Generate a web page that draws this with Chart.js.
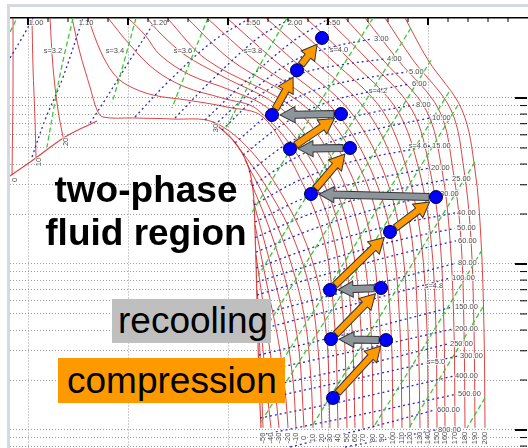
<!DOCTYPE html>
<html lang="en">
<head>
<meta charset="utf-8">
<title>CO2 compression diagram</title>
<script src="https://cdn.jsdelivr.net/npm/chart.js@4.4.1/dist/chart.umd.min.js"></script>
<style>
  html, body { margin: 0; padding: 0; background: #fff; }
  body { position: relative; width: 528px; height: 448px; overflow: hidden; }
  #diagram { position: absolute; left: 0; top: 0; }
  #frame { position: absolute; left: 7px; top: 4px; width: 521px; height: 444px; box-sizing: border-box;
           border-left: 3px solid #d5d9e1; border-top: 3px solid #d5d9e1; }
  .caption { position: absolute; margin: 0; color: #000; white-space: nowrap;
             font-family: "Liberation Sans", Arial, Helvetica, sans-serif; }
  #region { left: 0; top: 168px; width: 292px; text-align: center; font-weight: bold; font-size: 37px; line-height: 43px; }
  #recool { left: 112px; top: 299px; width: 153px; height: 44px; padding-left: 6px; background: #bfbfbf; font-size: 37px; line-height: 44px; }
  #comp { left: 58px; top: 358px; width: 218px; height: 45px; padding-left: 9px; background: #ff9900; font-size: 37px; line-height: 45px; }
</style>
</head>
<body>
<canvas id="diagram" width="528" height="448"></canvas>
<div id="frame"></div>
<div class="caption" id="region">two-phase<br>fluid region</div>
<div class="caption" id="recool">recooling</div>
<div class="caption" id="comp">compression</div>
<script>
// axis grid
const xTicks = [0, 20, 40, 60, 80, 100, 120, 140, 160, 180, 200, 220, 240, 260, 280, 300, 320, 340, 360, 380, 400, 420, 440, 460, 480];
const yGrid = [1, 0.9, 0.8, 0.7, 0.6, 0.5, 0.4, 0.3, 0.2, 0.1, 0.09, 0.08, 0.07, 0.06, 0.05, 0.04, 0.03, 0.02, 0.01, 0.009, 0.008];
const yMajor = [1, 0.1, 0.01];

// saturation boundary of the two-phase region
const satLeft = [[-18, 0.339], [5, 0.423], [37, 0.583], [69, 0.727]];
const satRight = [[185, 0.717], [205, 0.558], [219, 0.406], [225, 0.279], [227, 0.160], [229, 0.0607], [231, 0.0200], [233, 0.0103]];

// isotherms (red)
const vaporIsotherms = [
  { t: '0', pts: [[-15, 3.033], [-15, 1.117], [-16, 0.344]] },
  { t: '10', pts: [[4, 3.033], [5, 1.537], [7, 0.737], [8, 0.441]] },
  { t: '20', pts: [[22, 3.033], [25, 1.537], [30, 0.847], [35, 0.583]] }
];
const critIsotherm = [[44, 3.033], [52, 1.867], [62, 1.165], [69, 0.847], [75, 0.768], [105, 0.758], [145, 0.747], [185, 0.717],
  [222, 0.486], [257, 0.243], [284, 0.1057], [298, 0.0400], [302, 0.0103]];
const liquidIsotherms = [
  { t: '-50', pts: [[231, 0.0400], [234, 0.0152], [235, 0.0103]] },
  { t: '-40', pts: [[229, 0.0697], [235, 0.0303], [241, 0.0132], [243, 0.0103]] },
  { t: '-30', pts: [[228, 0.1133], [236, 0.0528], [246, 0.0200], [251, 0.0103]] },
  { t: '-20', pts: [[227, 0.172], [238, 0.0801], [252, 0.0303], [258, 0.0152], [260, 0.0103]] },
  { t: '-10', pts: [[225, 0.243], [240, 0.1133], [256, 0.0460], [265, 0.0200], [268, 0.0103]] },
  { t: '0', pts: [[222, 0.321], [242, 0.160], [260, 0.0697], [271, 0.0303], [276, 0.0103]] },
  { t: '10', pts: [[217, 0.423], [240, 0.227], [262, 0.1057], [277, 0.0460], [283, 0.0200], [285, 0.0103]] },
  { t: '20', pts: [[205, 0.558], [234, 0.321], [262, 0.160], [282, 0.0697], [291, 0.0264], [294, 0.0103]] }
];
const warmIsotherms = [
  { t: '40', pts: [[60, 3.033], [72, 1.946], [85, 1.415], [99, 1.198], [125, 1.042], [159, 0.972], [199, 0.882], [235, 0.768],
    [268, 0.368], [296, 0.140], [307, 0.0400], [310, 0.0103]] },
  { t: '50', pts: [[80, 3.033], [102, 2.086], [127, 1.475], [157, 1.165], [194, 1.000], [230, 0.847], [279, 0.368], [306, 0.140], [316, 0.0400], [319, 0.0103]] },
  { t: '60', pts: [[100, 3.033], [117, 2.396], [132, 1.816], [162, 1.376], [202, 1.117], [242, 0.847], [289, 0.368], [314, 0.140], [324, 0.0400], [327, 0.0103]] },
  { t: '70', pts: [[119, 3.033], [132, 2.463], [157, 1.816], [192, 1.376], [255, 0.847], [299, 0.368], [323, 0.140], [333, 0.0400], [335, 0.0103]] }
];
const hotY = [3.033, 1.694, 0.847, 0.368, 0.140, 0.0400, 0.0103];
const hotIsotherms = [
  { t: '80', x: [139, 179, 268, 310, 333, 343, 345] },
  { t: '90', x: [159, 203, 281, 321, 343, 352, 354] },
  { t: '100', x: [179, 226, 293, 333, 354, 363, 365] },
  { t: '110', x: [199, 246, 306, 343, 364, 372, 374] },
  { t: '120', x: [218, 265, 321, 355, 373, 380, 382] },
  { t: '130', x: [238, 285, 338, 368, 384, 390, 392] },
  { t: '140', x: [258, 304, 354, 379, 393, 399, 400] },
  { t: '150', x: [278, 322, 369, 391, 403, 408, 409] },
  { t: '160', x: [298, 340, 384, 402, 412, 416, 417] },
  { t: '170', x: [317, 355, 398, 414, 422, 426, 427] },
  { t: '180', x: [337, 370, 411, 425, 433, 436, 437] },
  { t: '190', x: [357, 385, 423, 436, 443, 446, 447] },
  { t: '200', x: [377, 400, 434, 447, 453, 456, 457] }
];

// isobars (blue, dotted)
const isobars = [
  { p: '1.00', pts: [[-18, 1.742], [-6, 2.299], [5, 3.033]] },
  { p: '1.10', pts: [[4, 0.441], [17, 0.737], [34, 1.284], [55, 3.033]] },
  { p: '1.20', pts: [[62, 0.707], [77, 0.972], [102, 1.694], [129, 3.033]] },
  { p: '1.50', pts: [[107, 0.768], [140, 1.249], [184, 2.175], [222, 3.033]] },
  { p: '2.00', pts: [[147, 0.758], [184, 1.284], [230, 2.299], [264, 3.033]] },
  { p: '2.50', pts: [[177, 0.737], [217, 1.249], [264, 2.175], [302, 3.033]] },
  { p: '3.00', pts: [[190, 0.717], [230, 1.181], [267, 1.694], [304, 2.029], [344, 2.267]] },
  { p: '4.00', pts: [[194, 0.641], [232, 1.042], [272, 1.395], [312, 1.580], [357, 1.718]] },
  { p: '5.00', pts: [[207, 0.536], [247, 0.847], [287, 1.117], [332, 1.302], [379, 1.435]] },
  { p: '6.00', pts: [[215, 0.453], [257, 0.707], [297, 0.932], [340, 1.087], [382, 1.215]] },
  { p: '8.00', pts: [[221, 0.358], [262, 0.543], [307, 0.717], [347, 0.824], [386, 0.907]] },
  { p: '10.00', pts: [[224, 0.295], [267, 0.435], [317, 0.583], [362, 0.678], [402, 0.758]] },
  { p: '15.00', pts: [[226, 0.227], [272, 0.321], [322, 0.411], [402, 0.514]] },
  { p: '20.00', pts: [[227, 0.179], [277, 0.250], [332, 0.312], [401, 0.378]] },
  { p: '25.00', pts: [[227, 0.144], [282, 0.200], [352, 0.267], [422, 0.325]] },
  { p: '30.00', pts: [[228, 0.118], [287, 0.164], [347, 0.214], [410, 0.264]] },
  { p: '40.00', pts: [[228, 0.0946], [292, 0.130], [362, 0.170], [427, 0.203]] },
  { p: '50.00', pts: [[229, 0.0779], [302, 0.107], [372, 0.140], [427, 0.164]] },
  { p: '60.00', pts: [[229, 0.0650], [302, 0.0882], [372, 0.115], [428, 0.138]] },
  { p: '80.00', pts: [[230, 0.0493], [312, 0.0668], [428, 0.101]] },
  { p: '100.00', pts: [[230, 0.0400], [312, 0.0543], [422, 0.0823]] },
  { p: '150.00', pts: [[231, 0.0283], [322, 0.0383], [425, 0.0551]] },
  { p: '200.00', pts: [[231, 0.0224], [322, 0.0295], [425, 0.0406]] },
  { p: '250.00', pts: [[232, 0.0179], [322, 0.0236], [420, 0.0330]] },
  { p: '300.00', pts: [[232, 0.0152], [322, 0.0200], [430, 0.0279]] },
  { p: '400.00', pts: [[232, 0.0118], [322, 0.0152], [425, 0.0211]] },
  { p: '500.00', pts: [[233, 0.00933], [322, 0.0120], [428, 0.0164]] },
  { p: '600.00', pts: [[262, 0.0079], [332, 0.0100], [407, 0.0132]] },
  { p: '800.00', pts: [[317, 0.0079], [408, 0.0100]] }
];

// isentropes (green, dashed)
const isentropes = [
  [[-18, 2.498], [-11, 3.033]],
  [[45, 3.033], [32, 1.376], [19, 0.507]],
  [[108, 3.033], [96, 1.648], [84, 0.932]],
  [[180, 3.033], [162, 1.648], [144, 0.871]],
  [[259, 3.033], [228, 1.435], [198, 0.659]],
  [[345, 3.033], [284, 0.790], [224, 0.205]],
  [[383, 2.64], [307, 0.486], [230, 0.0846]],
  [[403, 1.694], [317, 0.243], [231, 0.0353]],
  [[421, 1.087], [327, 0.130], [232, 0.0160]],
  [[430, 0.907], [332, 0.0986], [233, 0.0112]],
  [[447, 0.411], [365, 0.0650], [283, 0.0103]],
  [[454, 0.1214], [400, 0.0348], [345, 0.0103]],
  [[455, 0.0551], [418, 0.0236], [381, 0.0103]],
  [[457, 0.0156], [439, 0.0103]]
];
const entropyLabels = [['s=3.2', 25, 1.919], ['s=3.4', 87, 1.919], ['s=3.6', 155, 1.919], ['s=3.8', 225, 1.919],
  ['s=4.0', 311, 1.946], ['s=4.2', 350, 1.101], ['s=4.6', 390, 0.514], ['s=4.8', 406, 0.0737], ['s=5.0', 408, 0.0257]];

// the staged compression / recooling path
const cycleX = [294, 269, 244, 313, 262, 322, 283, 408, 362, 302, 353, 303, 358, 305];
const cycleY = [2.30, 1.47, 0.790, 0.801, 0.493, 0.500, 0.264, 0.253, 0.156, 0.0697, 0.0717, 0.0353, 0.0348, 0.0156];
const compression = [[13, 12], [11, 10], [9, 8], [8, 7], [6, 5], [4, 3], [2, 1], [1, 0]];
const recooling = [[3, 2], [5, 4], [7, 6], [10, 9], [12, 11]];

const RED = 'rgba(214, 36, 36, 0.85)';
const BLUE = '#2c2cc2';
const GREEN = '#3cc83c';
const LABEL_FONT = '7.5px "Liberation Sans", Arial, sans-serif';

const datasets = [];
function addLine(points, color, width, dash, order) {
  datasets.push({
    data: points.map(p => ({ x: p[0], y: p[1] })),
    showLine: true, borderColor: color, borderWidth: width, borderDash: dash,
    pointRadius: 0, pointHoverRadius: 0, tension: 0.35, fill: false, order: order
  });
}

addLine(satLeft, RED, 1.2, [], 3);
addLine(satRight, RED, 1.2, [], 3);
vaporIsotherms.forEach(t => addLine(t.pts, RED, 1, [], 3));
addLine(critIsotherm, RED, 1, [], 3);
liquidIsotherms.forEach(t => addLine(t.pts, RED, 1, [], 3));
warmIsotherms.forEach(t => addLine(t.pts, RED, 1, [], 3));
const hotCurves = hotIsotherms.map(t => ({ t: t.t, pts: t.x.map((x, i) => [x, hotY[i]]) }));
hotCurves.forEach(t => addLine(t.pts, RED, 1, [], 3));
isobars.forEach(b => addLine(b.pts, BLUE, 1.3, [2, 3], 2));
isentropes.forEach(s => addLine(s, GREEN, 1.3, [5, 3], 1));

datasets.push({
  isCycle: true,
  data: cycleX.map((x, i) => ({ x: x, y: cycleY[i] })),
  showLine: false, pointRadius: 6.5, pointHoverRadius: 6.5,
  backgroundColor: '#0000ff', borderColor: '#000040', borderWidth: 1, order: 0
});

// isotherms labelled at their lower end
const bottomLabelled = [...liquidIsotherms, { t: '30', pts: critIsotherm }, ...warmIsotherms, ...hotCurves];

function drawArrow(ctx, x1, y1, x2, y2, shaft, headW, headL, fill) {
  const len = Math.hypot(x2 - x1, y2 - y1);
  ctx.save();
  ctx.translate(x1, y1);
  ctx.rotate(Math.atan2(y2 - y1, x2 - x1));
  ctx.beginPath();
  ctx.moveTo(0, -shaft / 2);
  ctx.lineTo(len - headL, -shaft / 2);
  ctx.lineTo(len - headL, -headW / 2);
  ctx.lineTo(len, 0);
  ctx.lineTo(len - headL, headW / 2);
  ctx.lineTo(len - headL, shaft / 2);
  ctx.lineTo(0, shaft / 2);
  ctx.closePath();
  ctx.fillStyle = fill;
  ctx.fill();
  ctx.lineWidth = 1;
  ctx.strokeStyle = '#333';
  ctx.stroke();
  ctx.restore();
}

function label(ctx, text, x, y, align, angle) {
  ctx.save();
  ctx.translate(x, y);
  if (angle) ctx.rotate(angle);
  ctx.font = LABEL_FONT;
  ctx.textAlign = align;
  ctx.textBaseline = 'middle';
  ctx.lineWidth = 2;
  ctx.strokeStyle = 'rgba(255,255,255,0.8)';
  ctx.strokeText(text, 0, 0);
  ctx.fillStyle = '#4a4a4a';
  ctx.fillText(text, 0, 0);
  ctx.restore();
}

const overlay = {
  id: 'overlay',
  beforeDatasetDraw(chart, args) {
    if (!chart.data.datasets[args.index].isCycle) return;
    const { ctx, scales: { x, y }, chartArea: area } = chart;
    const X = v => x.getPixelForValue(v);
    const Y = v => y.getPixelForValue(v);

    // curve labels
    isobars.forEach(b => {
      const end = b.pts[b.pts.length - 1];
      if (end[1] > 3) label(ctx, b.p, X(end[0]) + 3, area.top + 5, 'center');
      else label(ctx, b.p, X(end[0]) + 2, Y(end[1]), 'left');
    });
    entropyLabels.forEach(l => label(ctx, l[0], X(l[1]), Y(l[2]), 'center'));
    bottomLabelled.forEach(t => {
      const end = t.pts[t.pts.length - 1];
      label(ctx, t.t, X(end[0]), area.bottom - 10, 'center', -Math.PI / 2);
    });
    vaporIsotherms.forEach(t => {
      const end = t.pts[t.pts.length - 1];
      label(ctx, t.t, X(end[0]) + 3, Y(end[1]) + 5, 'center', -Math.PI / 2);
    });
    label(ctx, '30', X(critIsotherm[7][0]) + 3, Y(critIsotherm[7][1]) + 6, 'center', -Math.PI / 2);

    // process arrows between the state points
    const r = 7;
    function arrow(pair, shaft, headW, headL, fill) {
      const x1 = X(cycleX[pair[0]]), y1 = Y(cycleY[pair[0]]);
      const x2 = X(cycleX[pair[1]]), y2 = Y(cycleY[pair[1]]);
      const len = Math.hypot(x2 - x1, y2 - y1);
      const ux = (x2 - x1) / len, uy = (y2 - y1) / len;
      drawArrow(ctx, x1 + ux * r, y1 + uy * r, x2 - ux * (r + 1), y2 - uy * (r + 1), shaft, headW, headL, fill);
    }
    recooling.forEach(p => arrow(p, 7, 16, 15, '#8d959c'));
    compression.forEach(p => arrow(p, 7, 17, 15, '#ff9900'));
  },
  afterDraw(chart) {
    const { ctx, scales: { x, y }, chartArea: area } = chart;
    ctx.save();
    ctx.strokeStyle = '#000';
    xTicks.forEach(v => {
      const p = x.getPixelForValue(v);
      const major = v % 100 === 0;
      ctx.lineWidth = major ? 2 : 1;
      ctx.beginPath();
      ctx.moveTo(p, area.top);
      ctx.lineTo(p, area.top + (major ? 7 : 4));
      ctx.stroke();
    });
    yGrid.forEach(v => {
      const p = y.getPixelForValue(v);
      const major = yMajor.includes(v);
      ctx.lineWidth = major ? 2 : 1;
      ctx.beginPath();
      ctx.moveTo(area.right, p);
      ctx.lineTo(area.right - (major ? 12 : 7), p);
      ctx.stroke();
    });
    ctx.restore();
  }
};

new Chart(document.getElementById('diagram'), {
  type: 'scatter',
  data: { datasets: datasets },
  options: {
    responsive: false,
    animation: false,
    events: [],
    layout: { autoPadding: false, padding: { left: 10, top: 18, right: 1, bottom: 0 } },
    plugins: { legend: { display: false }, tooltip: { enabled: false } },
    scales: {
      x: {
        type: 'linear', position: 'top', min: -18, max: 499, bounds: 'data',
        afterBuildTicks: s => { s.ticks = xTicks.map(v => ({ value: v })); },
        ticks: { display: false },
        grid: { drawTicks: false, lineWidth: 1, color: c => (c.tick && c.tick.value % 100 === 0) ? '#9a9a9a' : 'rgba(0,0,0,0)' },
        border: { display: true, color: '#000', width: 1.5, dash: [1, 2] }
      },
      y: {
        type: 'logarithmic', position: 'right', min: 0.00779, max: 3.033, bounds: 'data',
        afterBuildTicks: s => { s.ticks = yGrid.map(v => ({ value: v })); },
        ticks: { display: false },
        grid: { drawTicks: false, lineWidth: 1, color: '#9a9a9a' },
        border: { display: false, dash: [1, 2] }
      }
    }
  },
  plugins: [overlay]
});
</script>
</body>
</html>
